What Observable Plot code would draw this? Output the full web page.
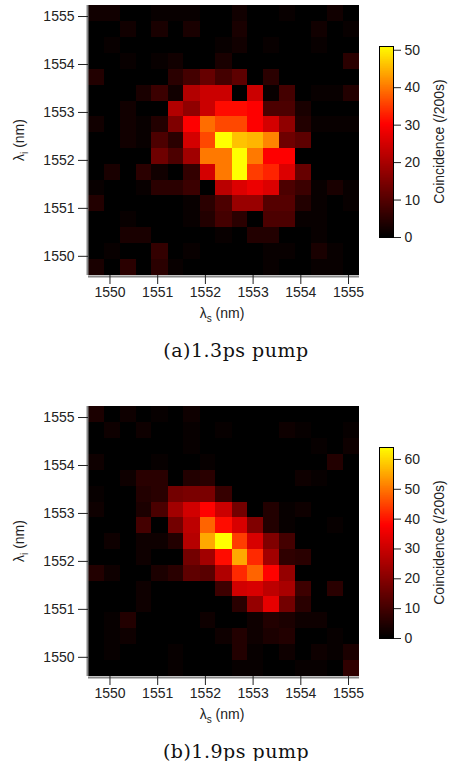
<!DOCTYPE html>
<html>
<head>
<meta charset="utf-8">
<script src="https://cdn.jsdelivr.net/npm/d3@7"></script>
<script src="https://cdn.jsdelivr.net/npm/@observablehq/plot@0.6"></script>
<style>
  body { margin: 0; background: #fff; }
  #fig { position: relative; width: 449px; height: 761px; overflow: hidden; background: #fff; }
  #fig svg { position: absolute; }
  .cap { position: absolute; font-family: "DejaVu Serif", serif; font-size: 19px; line-height: 19px;
         letter-spacing: 0.5px; color: #111; white-space: nowrap; transform: translateX(-50%); }
</style>
</head>
<body>
<div id="fig"></div>
<script>
// ---- data ----
// signal wavelength bin centres (nm), left to right
const lambdaS = [1549.72, 1550.05, 1550.39, 1550.72, 1551.05, 1551.39, 1551.72, 1552.06, 1552.39,
                 1552.73, 1553.06, 1553.39, 1553.73, 1554.06, 1554.40, 1554.73, 1555.06];
// idler wavelength bin centres (nm), top to bottom
const lambdaI = [1555.06, 1554.73, 1554.40, 1554.06, 1553.73, 1553.40, 1553.07, 1552.74, 1552.41,
                 1552.08, 1551.75, 1551.42, 1551.09, 1550.76, 1550.43, 1550.10, 1549.77];

// (a) 1.3 ps pump, coincidences per 200 s, rows top to bottom
const counts13 = [
  [2,2,0,0,1,1,1,0,0,2,0,0,1,0,0,2,0],
  [0,0,2,0,3,0,3,0,0,3,0,0,0,0,2,0,1],
  [0,1,0,0,0,0,0,0,1,2,0,1,0,0,1,0,0],
  [0,0,1,0,1,2,0,0,3,0,0,0,0,0,0,0,5],
  [4,0,0,0,0,5,8,12,8,11,0,5,0,0,0,0,0],
  [0,0,0,3,7,2,21,24,24,0,24,1,8,0,1,1,4],
  [0,0,2,0,0,21,17,24,31,31,30,9,9,3,0,0,0],
  [2,0,2,1,4,15,30,39,36,36,30,25,17,4,1,1,1],
  [0,0,2,1,9,5,25,36,51,46,45,41,13,11,0,0,0],
  [0,0,0,0,13,9,19,40,40,51,40,30,30,0,0,0,0],
  [0,3,0,5,2,0,6,25,40,51,35,33,26,12,0,0,0],
  [1,0,0,1,5,5,7,0,22,26,28,26,9,7,1,3,1],
  [4,0,0,0,0,0,1,5,9,18,18,10,10,4,1,0,1],
  [0,0,1,0,0,0,1,4,8,5,0,9,9,1,1,0,0],
  [0,0,3,3,0,0,0,0,1,0,4,4,0,0,1,0,0],
  [0,1,0,0,6,0,1,0,0,0,0,1,1,0,3,1,0],
  [3,0,5,0,5,1,0,0,0,0,0,1,0,0,1,1,0]
];

// (b) 1.9 ps pump, coincidences per 200 s, rows top to bottom
const counts19 = [
  [4,0,2,0,1,0,2,0,0,0,0,0,0,0,0,0,0],
  [0,2,0,2,0,0,1,0,1,0,0,0,2,1,0,0,1],
  [0,0,0,0,0,0,1,0,0,0,0,0,0,0,1,0,2],
  [2,0,0,0,1,0,0,1,0,0,0,0,0,0,0,5,0],
  [0,0,2,6,6,0,5,6,0,0,0,0,0,2,1,0,0],
  [1,0,0,5,6,17,18,18,8,0,0,0,0,0,0,0,0],
  [2,0,0,4,11,24,31,38,30,17,0,5,1,2,0,0,0],
  [0,0,0,10,0,17,28,48,39,32,19,5,1,0,0,1,0],
  [0,2,0,2,2,5,27,55,64,44,32,19,10,0,0,0,0],
  [0,0,0,2,0,0,17,24,39,55,42,24,7,6,0,0,0],
  [5,2,0,0,4,6,14,13,26,42,48,38,22,0,0,0,0],
  [0,0,0,2,0,0,0,0,9,31,32,28,25,9,0,6,0],
  [0,0,0,2,0,0,0,0,0,6,22,34,17,6,0,0,0],
  [0,1,5,0,0,0,0,2,0,0,2,5,4,2,2,0,0],
  [0,1,2,0,0,0,0,0,2,5,2,4,5,0,0,1,0],
  [0,1,0,0,0,1,0,0,0,5,1,0,2,0,2,1,4],
  [0,0,0,0,0,1,0,0,0,1,1,0,0,1,1,0,7]
];

const axisTicks = [1550, 1551, 1552, 1553, 1554, 1555];
const cbTicks13 = [0, 10, 20, 30, 40, 50];
const cbTicks19 = [0, 10, 20, 30, 40, 50, 60];
const cbMax13 = 51;
const cbMax19 = 64;
const captions = ["(a)1.3ps pump", "(b)1.9ps pump"];
const cbTitle = "Coincidence (/200s)";

// ---- drawing ----
// half cell size, slightly enlarged so neighbouring cells overlap (no seams)
const halfS = 0.170, halfI = 0.168;
const xDomain = [1549.55, 1555.23];
const yDomain = [1549.60, 1555.23];
const fig = document.getElementById("fig");
const FONT = "'Liberation Sans', Arial, sans-serif";
const INK = "#222";

function colorScale(maxV) {
  return {type: "linear", domain: [0, 0.59 * maxV, maxV], range: ["#000000", "#ff0000", "#ffff00"],
          interpolate: "rgb", clamp: true};
}

function panel(counts, maxV, cbTicks, top, caption) {
  const cells = [];
  counts.forEach((row, r) => row.forEach((v, c) => cells.push({
    x1: lambdaS[c] - halfS, x2: lambdaS[c] + halfS,
    y1: lambdaI[r] - halfI, y2: lambdaI[r] + halfI, v
  })));

  const heat = Plot.plot({
    width: 365, height: 330,
    marginLeft: 88, marginRight: 6, marginTop: 5, marginBottom: 55,
    style: {fontFamily: FONT, fontSize: "14px", color: INK, background: "transparent", overflow: "visible"},
    x: {domain: xDomain},
    y: {domain: yDomain},
    color: colorScale(maxV),
    marks: [
      Plot.rect(cells, {x1: "x1", x2: "x2", y1: "y1", y2: "y2", fill: "v", shapeRendering: "crispEdges", clip: true}),
      Plot.ruleX([xDomain[0]], {stroke: "#8a8a8a", strokeWidth: 2, dx: -1}),
      Plot.ruleY([yDomain[0]], {stroke: "#8a8a8a", strokeWidth: 2, dy: 1}),
      Plot.axisX(axisTicks, {tickSize: 9, tickPadding: 3, tickFormat: "d", label: null, stroke: INK}),
      Plot.axisY(axisTicks, {tickSize: 10, tickPadding: 4, tickFormat: "d", label: null, stroke: INK})
    ]
  });
  heat.style.left = "0px";
  heat.style.top = top + "px";
  fig.appendChild(heat);

  const hs = d3.select(heat);
  const xl = hs.append("text").attr("x", 222).attr("y", 318).attr("text-anchor", "middle")
    .attr("fill", INK).style("font", "14px " + FONT);
  xl.append("tspan").text("λ");
  xl.append("tspan").attr("dy", 4).style("font-size", "10px").text("s");
  xl.append("tspan").attr("dy", -4).text(" (nm)");
  const yl = hs.append("text").attr("transform", "translate(24,140) rotate(-90)").attr("text-anchor", "middle")
    .attr("fill", INK).style("font", "14px " + FONT);
  yl.append("tspan").text("λ");
  yl.append("tspan").attr("dy", 4).style("font-size", "10px").text("i");
  yl.append("tspan").attr("dy", -4).text(" (nm)");

  const steps = d3.range(0, maxV, maxV / 300);
  const cb = Plot.plot({
    width: 89, height: 260,
    marginLeft: 19, marginRight: 56, marginTop: 46, marginBottom: 23,
    style: {fontFamily: FONT, fontSize: "14px", color: INK, background: "transparent", overflow: "visible"},
    y: {domain: [0, maxV]},
    color: colorScale(maxV),
    marks: [
      Plot.rect(steps, {y1: d => d, y2: d => Math.min(maxV, d + maxV / 300 * 1.5), fill: d => d, shapeRendering: "crispEdges"}),
      Plot.frame({stroke: "#000", strokeWidth: 1}),
      Plot.axisY(cbTicks, {anchor: "right", tickSize: 7, tickPadding: 4, tickFormat: "d", label: null, stroke: INK})
    ]
  });
  cb.style.left = "360px";
  cb.style.top = top + "px";
  fig.appendChild(cb);
  d3.select(cb).append("text").attr("transform", "translate(84,141.5) rotate(-90)")
    .attr("text-anchor", "middle").attr("fill", INK).style("font", "14px " + FONT).text(cbTitle);

  const cap = document.createElement("div");
  cap.className = "cap";
  cap.style.left = "236px";
  cap.style.top = (top + 341) + "px";
  cap.textContent = caption;
  fig.appendChild(cap);
}

panel(counts13, cbMax13, cbTicks13, 0, captions[0]);
panel(counts19, cbMax19, cbTicks19, 401, captions[1]);
</script>
</body>
</html>
